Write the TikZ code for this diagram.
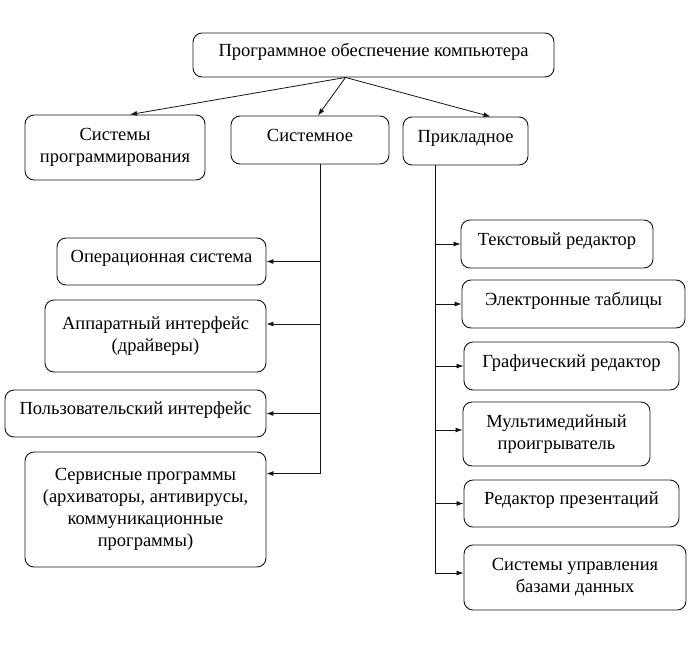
\documentclass[tikz,border=0pt]{standalone}
\usepackage{fontspec}
\setmainfont{Liberation Serif}
\newfontfamily\pofont{Liberation Serif}
\usetikzlibrary{positioning,arrows.meta,calc}
\definecolor{PoLine}{RGB}{20,20,20}
\tikzset{
  po box/.style={
    draw=PoLine,
    line width=0.9pt,
    rounded corners=9pt,
    align=center,
    font=\pofont\fontsize{18.5}{22}\selectfont,
    inner sep=3pt
  },
  po single/.style={po box, text height=13pt, text depth=11pt},
  po arrow/.style={-{Latex[length=7pt,width=5pt]}, line width=0.8pt, PoLine},
  po line/.style={line width=0.8pt, PoLine}
}
\begin{document}
\begin{tikzpicture}[x=1pt,y=-1pt]
\useasboundingbox (0,0) rectangle (695,653);
\node[po single, minimum width=361pt, minimum height=44pt] (top) at (373.5,55) {Программное обеспечение компьютера};
\node[po box, minimum width=180pt, minimum height=65pt] (sprog) at (115,147.5) {Системы\\программирования};
\node[po single, minimum width=158pt, minimum height=48pt] (sys) at (310,140) {Системное};
\node[po single, minimum width=125pt, minimum height=48pt] (app) at (465.5,141) {Прикладное};
\node[po single, minimum width=209pt, minimum height=47pt] (os) at (161.5,261.5) {Операционная система};
\node[po box, minimum width=221pt, minimum height=72pt] (hw) at (155.5,336) {Аппаратный интерфейс\\(драйверы)};
\node[po single, minimum width=261pt, minimum height=47pt] (ui) at (135.5,413.5) {Пользовательский интерфейс};
\node[po box, minimum width=241pt, minimum height=115pt] (srv) at (145.5,509.5) {Сервисные программы\\(архиваторы, антивирусы,\\коммуникационные\\программы)};
\node[po single, minimum width=192pt, minimum height=48pt] (txt) at (557,244) {Текстовый редактор};
\node[po single, minimum width=223pt, minimum height=48pt] (tab) at (573.5,304) {Электронные таблицы};
\node[po single, minimum width=215pt, minimum height=48pt] (gfx) at (571.5,366) {Графический редактор};
\node[po box, minimum width=187pt, minimum height=64pt] (mm) at (556.5,434) {Мультимедийный\\проигрыватель};
\node[po single, minimum width=215pt, minimum height=47pt] (pres) at (571.5,503.5) {Редактор презентаций};
\node[po box, minimum width=222pt, minimum height=65pt] (db) at (575,577.5) {Системы управления\\базами данных};
\coordinate (fork) at ([xshift=-28pt]top.south);
\coordinate (sysb) at ([xshift=10pt]sys.south);
\coordinate (appb) at ([xshift=-30pt]app.south);
\draw[po arrow] (fork)--([xshift=15pt]sprog.north);
\draw[po arrow] (fork)--([xshift=8pt]sys.north);
\draw[po arrow] (fork)--([xshift=25pt]app.north);
\draw[po arrow] (sysb)|-([yshift=36pt]srv.east);
\draw[po arrow] (sysb|-os.east)--(os.east);
\draw[po arrow] (sysb|-{$(hw.east)+(0,-12)$})--([yshift=12pt]hw.east);
\draw[po arrow] (sysb|-ui.east)--(ui.east);
\draw[po arrow] (appb)|-([yshift=4.5pt]db.west);
\draw[po arrow] (appb|-txt.west)--(txt.west);
\draw[po arrow] (appb|-tab.west)--(tab.west);
\draw[po arrow] (appb|-gfx.west)--(gfx.west);
\draw[po arrow] (appb|-{$(mm.west)+(0,-4)$})--([yshift=4pt]mm.west);
\draw[po arrow] (appb|-pres.west)--(pres.west);
\end{tikzpicture}
\end{document}
